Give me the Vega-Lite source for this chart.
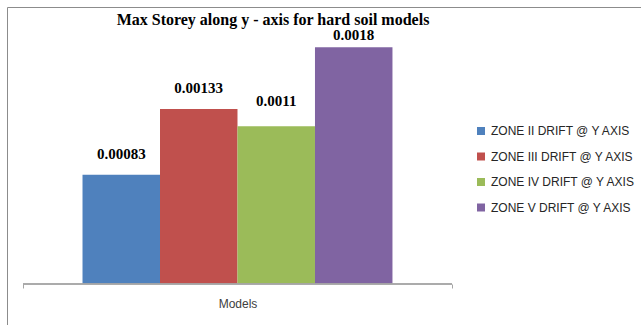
{
  "$schema": "https://vega.github.io/schema/vega-lite/v6.json",
  "width": 636,
  "height": 320,
  "autosize": {"type": "none"},
  "padding": {"left": 7, "top": 7, "right": 0, "bottom": 0},
  "background": "white",
  "config": {"view": {"stroke": "#8c8c8c", "strokeWidth": 1}},
  "title": {
    "text": "Max Storey along y - axis for hard soil models",
    "font": "Liberation Serif",
    "fontSize": 16,
    "fontWeight": "bold",
    "color": "black",
    "anchor": "middle",
    "frame": "group",
    "dx": -52,
    "dy": 19,
    "offset": -15,
    "baseline": "alphabetic"
  },
  "data": {
    "values": [
      {"category": "Models", "series": "ZONE II DRIFT @ Y AXIS", "value": 0.00083, "label": "0.00083"},
      {"category": "Models", "series": "ZONE III DRIFT @ Y AXIS", "value": 0.00133, "label": "0.00133"},
      {"category": "Models", "series": "ZONE IV DRIFT @ Y AXIS", "value": 0.0012, "label": "0.0011"},
      {"category": "Models", "series": "ZONE V DRIFT @ Y AXIS", "value": 0.0018, "label": "0.0018"}
    ]
  },
  "encoding": {
    "x": {
      "field": "category",
      "type": "nominal",
      "scale": {"paddingInner": 0, "paddingOuter": 0.2413, "align": 0.0773},
      "axis": {
        "title": null,
        "orient": "bottom",
        "offset": -43,
        "domain": false,
        "ticks": true,
        "tickBand": "extent",
        "tickSize": 4,
        "tickColor": "#a6a6a6",
        "grid": false,
        "labelFont": "Liberation Sans",
        "labelFontSize": 12,
        "labelColor": "#404040",
        "labelPadding": 10,
        "labelAngle": 0
      }
    },
    "y": {
      "field": "value",
      "type": "quantitative",
      "scale": {"domain": [-0.000327, 0.0021065], "nice": false, "zero": false},
      "axis": null
    }
  },
  "layer": [
    {
      "mark": {"type": "bar"},
      "encoding": {
        "xOffset": {
          "field": "series",
          "type": "nominal",
          "sort": ["ZONE II DRIFT @ Y AXIS", "ZONE III DRIFT @ Y AXIS", "ZONE IV DRIFT @ Y AXIS", "ZONE V DRIFT @ Y AXIS"],
          "scale": {"paddingInner": 0, "paddingOuter": 0.768}
        },
        "y2": {"datum": 0},
        "color": {
          "field": "series",
          "type": "nominal",
          "scale": {
            "domain": ["ZONE II DRIFT @ Y AXIS", "ZONE III DRIFT @ Y AXIS", "ZONE IV DRIFT @ Y AXIS", "ZONE V DRIFT @ Y AXIS"],
            "range": ["#4F81BD", "#C0504D", "#9BBB59", "#8064A2"]
          },
          "legend": {
            "orient": "none",
            "legendX": 468,
            "legendY": 118,
            "title": null,
            "symbolType": "square",
            "symbolSize": 64,
            "symbolStrokeWidth": 0,
            "symbolOpacity": 1,
            "labelFont": "Liberation Sans",
            "labelFontSize": 12,
            "labelColor": "#262626",
            "rowPadding": 13.5,
            "padding": 0,
            "labelOffset": 4,
            "symbolOffset": 0
          }
        }
      }
    },
    {
      "transform": [{"filter": "datum.series === 'ZONE II DRIFT @ Y AXIS' || datum.series === 'ZONE III DRIFT @ Y AXIS'"}],
      "mark": {"type": "text", "font": "Liberation Serif", "fontSize": 15, "fontWeight": "bold", "color": "black", "baseline": "alphabetic", "align": "center", "dy": -16},
      "encoding": {
        "xOffset": {
          "field": "series",
          "type": "nominal",
          "sort": ["ZONE II DRIFT @ Y AXIS", "ZONE III DRIFT @ Y AXIS", "ZONE IV DRIFT @ Y AXIS", "ZONE V DRIFT @ Y AXIS"],
          "scale": {"paddingInner": 0, "paddingOuter": 0.768}
        },
        "text": {"field": "label"}
      }
    },
    {
      "transform": [{"filter": "datum.series === 'ZONE IV DRIFT @ Y AXIS'"}],
      "mark": {"type": "text", "font": "Liberation Serif", "fontSize": 15, "fontWeight": "bold", "color": "black", "baseline": "alphabetic", "align": "center", "dy": -20},
      "encoding": {
        "xOffset": {
          "field": "series",
          "type": "nominal",
          "sort": ["ZONE II DRIFT @ Y AXIS", "ZONE III DRIFT @ Y AXIS", "ZONE IV DRIFT @ Y AXIS", "ZONE V DRIFT @ Y AXIS"],
          "scale": {"paddingInner": 0, "paddingOuter": 0.768}
        },
        "text": {"field": "label"}
      }
    },
    {
      "transform": [{"filter": "datum.series === 'ZONE V DRIFT @ Y AXIS'"}],
      "mark": {"type": "text", "font": "Liberation Serif", "fontSize": 15, "fontWeight": "bold", "color": "black", "baseline": "alphabetic", "align": "center", "dy": -7},
      "encoding": {
        "xOffset": {
          "field": "series",
          "type": "nominal",
          "sort": ["ZONE II DRIFT @ Y AXIS", "ZONE III DRIFT @ Y AXIS", "ZONE IV DRIFT @ Y AXIS", "ZONE V DRIFT @ Y AXIS"],
          "scale": {"paddingInner": 0, "paddingOuter": 0.768}
        },
        "text": {"field": "label"}
      }
    },
    {
      "mark": {"type": "tick", "size": 429, "thickness": 1, "color": "#a6a6a6", "opacity": 1},
      "encoding": {
        "y": {"datum": 0}
      }
    }
  ]
}
